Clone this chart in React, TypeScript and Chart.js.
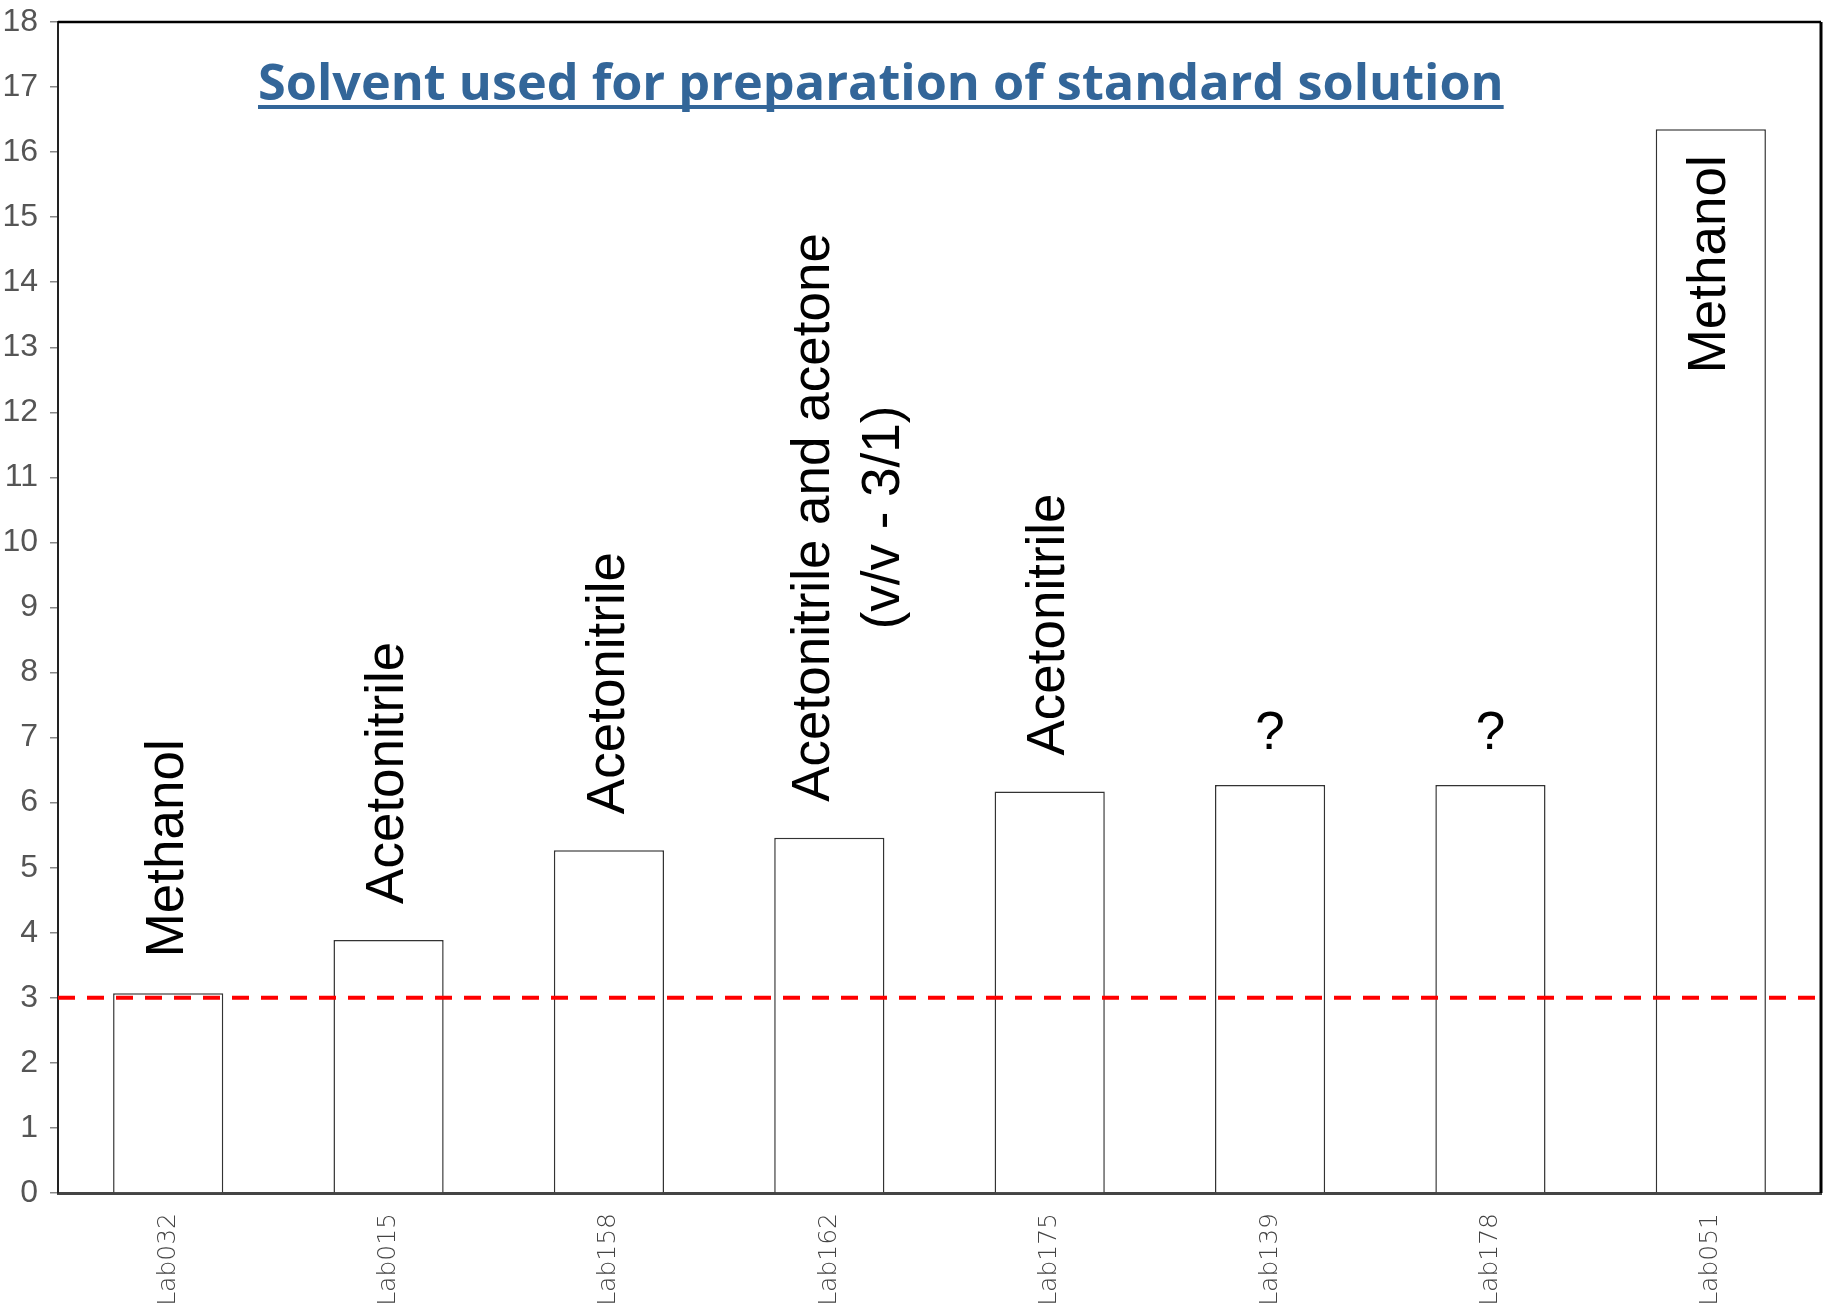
import React, { useEffect, useRef } from "react";
import { Chart, registerables } from "chart.js";

Chart.register(...registerables);

const labs = ["Lab032", "Lab015", "Lab158", "Lab162", "Lab175", "Lab139", "Lab178", "Lab051"];
const values = [3.07, 3.89, 5.27, 5.46, 6.17, 6.27, 6.27, 16.35];
const solvents: (string | string[])[] = [
  "Methanol",
  "Acetonitrile",
  "Acetonitrile",
  ["Acetonitrile and acetone", "(v/v - 3/1)"],
  "Acetonitrile",
  "?",
  "?",
  "Methanol",
];
const threshold = 3;
const titleText = "Solvent used for preparation of standard solution";
const yMin = 0;
const yMax = 18;
const yStep = 1;

const framePlugin = {
  id: "frame",
  afterDatasetsDraw(chart: any) {
    const { ctx, chartArea } = chart;
    const yScale = chart.scales.y;
    const meta = chart.getDatasetMeta(0);

    // annotations
    ctx.save();
    ctx.fillStyle = "#000";
    ctx.font = "53px 'Liberation Sans', Arial, sans-serif";
    const gap = 36;
    meta.data.forEach((bar: any, i: number) => {
      const note = solvents[i];
      const x = bar.x;
      const top = bar.y;
      if (note === "?") {
        ctx.save();
        ctx.textAlign = "center";
        ctx.textBaseline = "alphabetic";
        ctx.fillText(note, x, top - gap);
        ctx.restore();
        return;
      }
      const lines = Array.isArray(note) ? note : [note];
      const widths = lines.map((l) => ctx.measureText(l).width);
      const maxW = Math.max(...widths);
      const lineH = 70;
      const blockShift = Array.isArray(note) ? 20 : 0;
      const inside = top - gap - maxW < chartArea.top;
      ctx.save();
      ctx.textBaseline = "middle";
      ctx.textAlign = "center";
      lines.forEach((line, li) => {
        const off = (li - (lines.length - 1) / 2) * lineH + blockShift;
        ctx.save();
        if (inside) {
          ctx.translate(x + off, top + 26 + maxW / 2);
        } else {
          ctx.translate(x + off, top - gap - maxW / 2);
        }
        ctx.rotate(-Math.PI / 2);
        ctx.fillText(line, 0, 0);
        ctx.restore();
      });
      ctx.restore();
    });
    ctx.restore();

    // threshold line
    const ty = yScale.getPixelForValue(threshold);
    ctx.save();
    ctx.strokeStyle = "#ff0000";
    ctx.lineWidth = 4;
    ctx.setLineDash([17, 12]);
    ctx.beginPath();
    ctx.moveTo(chartArea.left, ty);
    ctx.lineTo(chartArea.right, ty);
    ctx.stroke();
    ctx.restore();

    // top and right border
    ctx.save();
    ctx.strokeStyle = "#000";
    ctx.lineWidth = 2.5;
    ctx.beginPath();
    ctx.moveTo(chartArea.left, chartArea.top);
    ctx.lineTo(chartArea.right, chartArea.top);
    ctx.stroke();
    ctx.lineWidth = 3;
    ctx.beginPath();
    ctx.moveTo(chartArea.right, chartArea.top);
    ctx.lineTo(chartArea.right, chartArea.bottom);
    ctx.stroke();
    ctx.restore();

    // title
    ctx.save();
    const targetW = 1246;
    ctx.font = "bold 52px 'Open Sans', sans-serif";
    const w0 = ctx.measureText(titleText).width;
    const size = Math.min(60, 52 * (targetW / w0));
    ctx.font = `bold ${size}px 'Open Sans', sans-serif`;
    const tw = ctx.measureText(titleText).width;
    const tx = chartArea.left + 200;
    const baseY = chartArea.top + 78;
    ctx.fillStyle = "#336699";
    ctx.textAlign = "left";
    ctx.textBaseline = "alphabetic";
    ctx.fillText(titleText, tx, baseY);
    ctx.fillRect(tx, baseY + 5, tw, 4);
    ctx.restore();
  },
};

export default function App() {
  const ref = useRef<HTMLCanvasElement | null>(null);
  useEffect(() => {
    if (!ref.current) return;
    const chart = new Chart(ref.current, {
      type: "bar",
      data: {
        labels: labs,
        datasets: [
          {
            data: values,
            backgroundColor: "#ffffff",
            borderColor: "#333333",
            borderWidth: 1.5,
            borderSkipped: "start",
            barPercentage: 0.5,
            categoryPercentage: 1,
          },
        ],
      },
      options: {
        responsive: false,
        animation: false,
        layout: { padding: { top: 22, right: 2, left: 0, bottom: 0 } },
        plugins: { legend: { display: false }, tooltip: { enabled: false }, title: { display: false } },
        scales: {
          x: {
            grid: { display: false },
            border: { display: true, color: "#444", width: 3 },
            ticks: {
              minRotation: 90,
              maxRotation: 90,
              padding: 12,
              color: "#444",
              font: { family: "'DejaVu Sans', sans-serif", size: 25, weight: "200" as any },
            },
            afterFit: (s: any) => {
              s.height = 113;
            },
          },
          y: {
            min: yMin,
            max: yMax,
            grid: { drawOnChartArea: false, drawTicks: true, tickLength: 8, color: "#888", lineWidth: 1.5 },
            border: { display: true, color: "#222", width: 2 },
            ticks: {
              stepSize: yStep,
              padding: 12,
              color: "#555",
              font: { family: "'Liberation Sans Narrow', sans-serif", size: 32, lineHeight: 0.6 },
            },
            afterFit: (s: any) => {
              s.width = 58;
            },
          },
        },
      },
      plugins: [framePlugin],
    });
    return () => chart.destroy();
  }, []);
  return (
    <div style={{ position: "absolute", left: 0, top: 0, width: 1823, height: 1306, background: "#fff" }}>
      <canvas ref={ref} width={1823} height={1306} style={{ display: "block" }} />
    </div>
  );
}
